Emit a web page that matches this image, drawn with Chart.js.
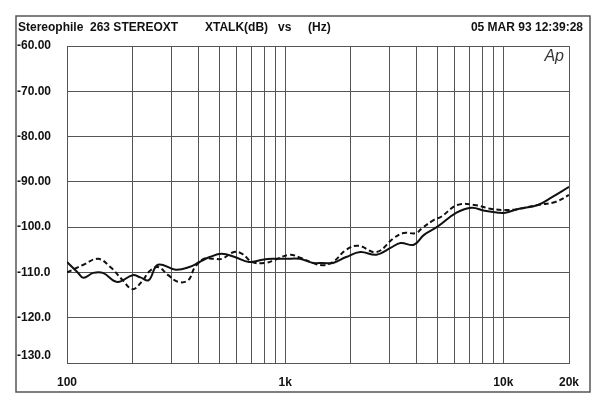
<!DOCTYPE html>
<html>
<head>
<meta charset="utf-8">
<script src="https://cdn.jsdelivr.net/npm/chart.js@4.4.0/dist/chart.umd.min.js"></script>
<style>
  html, body { margin: 0; padding: 0; background: #fff; }
  canvas { display: block; }
</style>
</head>
<body>
<canvas id="xtalk" width="600" height="407"></canvas>
<script>
// crosstalk curves (Hz, dB)
const solidFreq = [100, 112, 119, 132, 146, 170, 200, 217, 237, 261, 315, 364, 405, 451, 512, 588, 682, 786, 874, 1003, 1166, 1341, 1488, 1656, 1904, 2210, 2620, 3040, 3380, 3890, 4330, 4990, 6100, 7150, 8220, 9500, 10200, 11690, 14400, 16800, 20000];
const solidDb = [-107.7, -110.0, -111.2, -110.1, -110.1, -112.1, -110.6, -111.1, -111.7, -108.3, -109.4, -108.8, -107.7, -106.6, -105.9, -106.6, -107.7, -107.2, -107.0, -107.0, -107.0, -107.9, -107.9, -107.9, -106.6, -105.5, -106.1, -104.6, -103.5, -103.9, -101.7, -99.9, -96.8, -95.7, -96.4, -96.8, -96.8, -96.0, -95.1, -93.3, -91.1];

const dashFreq = [100, 119, 139, 158, 180, 200, 223, 237, 261, 291, 324, 360, 384, 423, 470, 512, 583, 635, 707, 810, 900, 1048, 1179, 1341, 1488, 1656, 1904, 2165, 2620, 3150, 3490, 3980, 4240, 4810, 5190, 6160, 7350, 8870, 10550, 11690, 14400, 17400, 20000];
const dashDb = [-110.0, -108.3, -107.0, -108.8, -111.7, -113.7, -111.7, -109.9, -108.8, -110.6, -112.1, -111.7, -109.0, -107.0, -107.0, -107.0, -105.5, -105.9, -107.7, -107.9, -107.2, -106.1, -106.8, -107.9, -108.4, -107.7, -105.0, -104.1, -105.5, -102.4, -101.3, -101.3, -100.2, -98.4, -97.7, -95.1, -95.1, -96.0, -96.2, -96.0, -95.1, -94.4, -92.9];

const xGrid = [100, 200, 300, 400, 500, 600, 700, 800, 900, 1000, 2000, 3000, 4000, 5000, 6000, 7000, 8000, 9000, 10000, 20000];
const xLabels = { 100: '100', 1000: '1k', 10000: '10k', 20000: '20k' };

const FONT = '"Liberation Sans", Arial, sans-serif';
Chart.defaults.font.family = FONT;
Chart.defaults.font.size = 12;
Chart.defaults.font.weight = 'bold';
Chart.defaults.color = '#111';

const frame = {
  id: 'frame',
  afterDraw(chart) {
    const c = chart.ctx;
    c.save();
    c.strokeStyle = '#555';
    c.lineWidth = 1.5;
    c.strokeRect(16, 16, 574, 376);
    c.fillStyle = '#111';
    c.font = 'bold 12px ' + FONT;
    c.textBaseline = 'middle';
    c.textAlign = 'left';
    c.fillText('Stereophile  263 STEREOXT', 18, 28);
    c.fillText('XTALK(dB)   vs     (Hz)', 205, 28);
    c.textAlign = 'right';
    c.fillText('05 MAR 93 12:39:28', 583, 28);
    c.font = 'italic 16px ' + FONT;
    c.textBaseline = 'alphabetic';
    c.fillStyle = '#333';
    c.fillText('Ap', 564, 61);
    c.restore();
  }
};

new Chart(document.getElementById('xtalk'), {
  type: 'line',
  data: {
    datasets: [
      {
        data: solidFreq.map((f, i) => ({ x: f, y: solidDb[i] })),
        borderColor: '#111',
        borderWidth: 2,
        pointRadius: 0,
        tension: 0.4
      },
      {
        data: dashFreq.map((f, i) => ({ x: f, y: dashDb[i] })),
        borderColor: '#111',
        borderWidth: 2,
        borderDash: [5, 3],
        pointRadius: 0,
        tension: 0.4
      }
    ]
  },
  options: {
    responsive: false,
    animation: false,
    devicePixelRatio: 1,
    layout: { padding: { left: 17, top: 46, right: 31, bottom: 0 } },
    plugins: { legend: { display: false }, tooltip: { enabled: false } },
    scales: {
      x: {
        type: 'logarithmic',
        min: 100,
        max: 20000,
        afterBuildTicks: axis => { axis.ticks = xGrid.map(v => ({ value: v })); },
        afterFit: axis => { axis.height = 44; },
        grid: { color: '#555', lineWidth: 1, drawTicks: false },
        border: { color: '#555', width: 1 },
        ticks: {
          autoSkip: false,
          maxRotation: 0,
          padding: 12,
          callback: v => xLabels[v] || ''
        }
      },
      y: {
        min: -130,
        max: -60,
        afterFit: axis => { axis.width = 50; },
        grid: { color: '#555', lineWidth: 1, drawTicks: false },
        border: { color: '#555', width: 1 },
        ticks: {
          stepSize: 10,
          crossAlign: 'far',
          // bottom label sits a bit above its line, as on the original
          callback: v => (v === -130 ? ['-130.0', ''] : (v <= -100 ? v.toFixed(1) : v.toFixed(2)))
        }
      }
    }
  },
  plugins: [frame]
});
</script>
</body>
</html>
